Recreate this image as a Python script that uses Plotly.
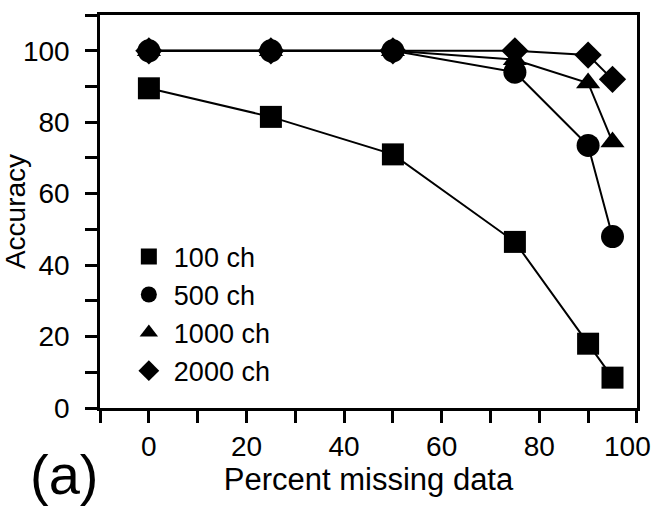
import plotly.graph_objects as go

pct_missing = [0, 25, 50, 75, 90, 95]
acc_100 = [89.5, 81.5, 71, 46.5, 18, 8.5]
acc_500 = [100, 100, 100, 94, 73.5, 48]
acc_1000 = [100, 100, 100, 97.5, 91, 74.5]
acc_2000 = [100, 100, 100, 100, 98.8, 92]

series_names = ["100 ch", "500 ch", "1000 ch", "2000 ch"]
series_vals = [acc_100, acc_500, acc_1000, acc_2000]
symbols = ["square", "circle", "triangle-up", "diamond"]
sizes = [22, 23, 21, 21]

x_tickvals = [0, 20, 40, 60, 80, 100]
x_ticktext = ["0", "20", "40", "60", "80", ""]
x_last_label = "100"  # drawn as an annotation, pulled left to fit the page like the original

FONT = "Liberation Sans, Arial, Helvetica, sans-serif"

fig = go.Figure()
for name, vals, sym, sz in zip(series_names, series_vals, symbols, sizes):
    fig.add_trace(go.Scatter(
        x=pct_missing, y=vals, name=name, mode="lines+markers",
        line=dict(color="black", width=2),
        marker=dict(symbol=sym, size=sz, color="black", line=dict(width=0)),
        cliponaxis=False, showlegend=False,
    ))
# legend entries (markers only, no line)
for name, sym, sz in zip(series_names, symbols, sizes):
    fig.add_trace(go.Scatter(
        x=[None], y=[None], name=name, mode="markers",
        marker=dict(symbol=sym, size=sz, color="black", line=dict(width=0)),
        showlegend=True,
    ))

axis_common = dict(
    showline=True, linecolor="black", linewidth=2.5, mirror=True,
    showgrid=False, zeroline=False, automargin=False,
    ticks="outside", ticklen=12, tickwidth=2.5, tickcolor="black",
    tickfont=dict(family=FONT, size=28, color="black"),
    ticklabeloverflow="allow",
    minor=dict(ticks="outside", ticklen=12, tickwidth=2.5, tickcolor="black",
               tickmode="linear", dtick=10, tick0=0, showgrid=False),
)

fig.update_layout(
    width=657, height=506,
    margin=dict(l=100, r=20, t=15, b=98),
    paper_bgcolor="white", plot_bgcolor="white",
    font=dict(family=FONT, color="black"),
    showlegend=True,
    legend=dict(
        x=0.0444, y=0.447, xanchor="left", yanchor="top",
        bgcolor="rgba(0,0,0,0)", borderwidth=0,
        font=dict(family=FONT, size=27, color="black"),
        itemwidth=40, tracegroupgap=0,
    ),
    xaxis=dict(axis_common, range=[-10.02, 100.02], ticklabelstandoff=0,
               tickmode="array", tickvals=x_tickvals, ticktext=x_ticktext,
               title=dict(text="Percent missing data",
                          font=dict(family=FONT, size=31, color="black"),
                          standoff=3)),
    yaxis=dict(axis_common, range=[0, 110.02], ticklabelstandoff=10,
               tickmode="linear", tick0=0, dtick=20,
               title=dict(text="Accuracy",
                          font=dict(family=FONT, size=28, color="black"),
                          standoff=4)),
    annotations=[
        dict(
            text="(a)", xref="paper", yref="paper", x=-0.067, y=-0.17,
            xanchor="center", yanchor="middle", showarrow=False,
            font=dict(family=FONT, size=56, color="black"),
        ),
        dict(
            text=x_last_label, xref="x", yref="paper", x=x_tickvals[-1], y=0,
            xanchor="right", yanchor="middle", xshift=16, yshift=-38,
            showarrow=False,
            font=dict(family=FONT, size=28, color="black"),
        ),
    ],
)

fig.write_html("out.html")
